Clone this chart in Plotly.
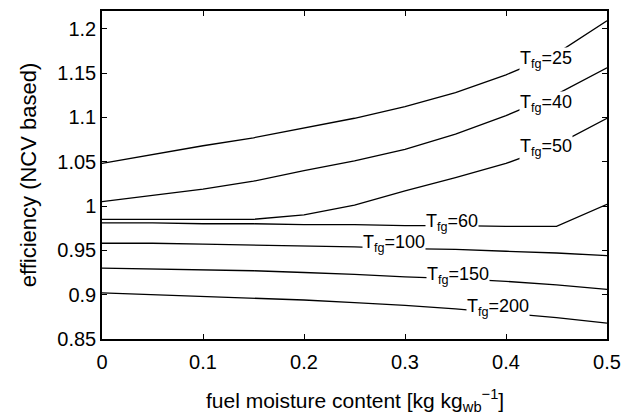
import plotly.graph_objects as go

moisture = [0.0, 0.05, 0.1, 0.15, 0.2, 0.25, 0.3, 0.35, 0.4, 0.45, 0.5]
eff_T25 = [1.048, 1.058, 1.068, 1.077, 1.088, 1.099, 1.112, 1.128, 1.148, 1.172, 1.209]
eff_T40 = [1.005, 1.012, 1.019, 1.028, 1.040, 1.051, 1.064, 1.081, 1.102, 1.126, 1.156]
eff_T50 = [0.985, 0.985, 0.985, 0.985, 0.990, 1.001, 1.017, 1.032, 1.048, 1.069, 1.099]
eff_T60 = [0.981, 0.981, 0.980, 0.980, 0.979, 0.979, 0.978, 0.978, 0.977, 0.977, 1.002]
eff_T100 = [0.958, 0.958, 0.957, 0.956, 0.955, 0.954, 0.952, 0.951, 0.949, 0.947, 0.944]
eff_T150 = [0.930, 0.929, 0.928, 0.927, 0.925, 0.923, 0.920, 0.918, 0.915, 0.911, 0.906]
eff_T200 = [0.902, 0.900, 0.898, 0.896, 0.894, 0.891, 0.888, 0.884, 0.879, 0.874, 0.868]

series = [("25", eff_T25), ("40", eff_T40), ("50", eff_T50), ("60", eff_T60),
          ("100", eff_T100), ("150", eff_T150), ("200", eff_T200)]
label_x = [0.44, 0.44, 0.44, 0.3465, 0.289, 0.352, 0.392]
label_y = [1.165, 1.116, 1.066, 0.981, 0.958, 0.922, 0.886]

font = "Liberation Sans, Arial, sans-serif"
fig = go.Figure()
for name, vals in series:
    fig.add_trace(go.Scatter(x=moisture, y=vals, mode="lines",
                             line=dict(color="black", width=1.3),
                             showlegend=False, hoverinfo="skip", cliponaxis=False))

for (name, _), lx, ly in zip(series, label_x, label_y):
    fig.add_annotation(x=lx, y=ly, text=f"T<sub>fg</sub>={name}", showarrow=False,
                       bgcolor="white", font=dict(family=font, size=18, color="black"),
                       borderpad=0)

fig.add_annotation(xref="paper", yref="paper", x=0.5, y=0, yshift=-61,
                   xanchor="center", yanchor="middle", showarrow=False,
                   text="fuel moisture content [kg kg<sub>wb</sub><sup>\u22121</sup>]",
                   font=dict(family=font, size=21, color="black"))

axis_common = dict(showline=True, linecolor="black", linewidth=1.5, mirror="ticks",
                   ticks="inside", ticklen=5, tickcolor="black", tickwidth=1,
                   showgrid=False, zeroline=False, automargin=False,
                   tickfont=dict(family=font, size=20, color="black"))

fig.update_xaxes(range=[0, 0.5], tickvals=[0, 0.1, 0.2, 0.3, 0.4, 0.5],
                 ticktext=["0", "0.1", "0.2", "0.3", "0.4", "0.5"],
                 ticklabelstandoff=4,
                 **axis_common)
fig.update_yaxes(range=[0.85, 1.22], tickvals=[0.85, 0.9, 0.95, 1.0, 1.05, 1.1, 1.15, 1.2],
                 ticktext=["0.85", "0.9", "0.95", "1", "1.05", "1.1", "1.15", "1.2"],
                 title=dict(text="efficiency (NCV based)",
                            font=dict(family=font, size=22, color="black")),
                 **axis_common)

fig.update_layout(width=626, height=406, margin=dict(l=94, r=27, t=3, b=75),
                  plot_bgcolor="white", paper_bgcolor="white")
fig.write_html("out.html")
